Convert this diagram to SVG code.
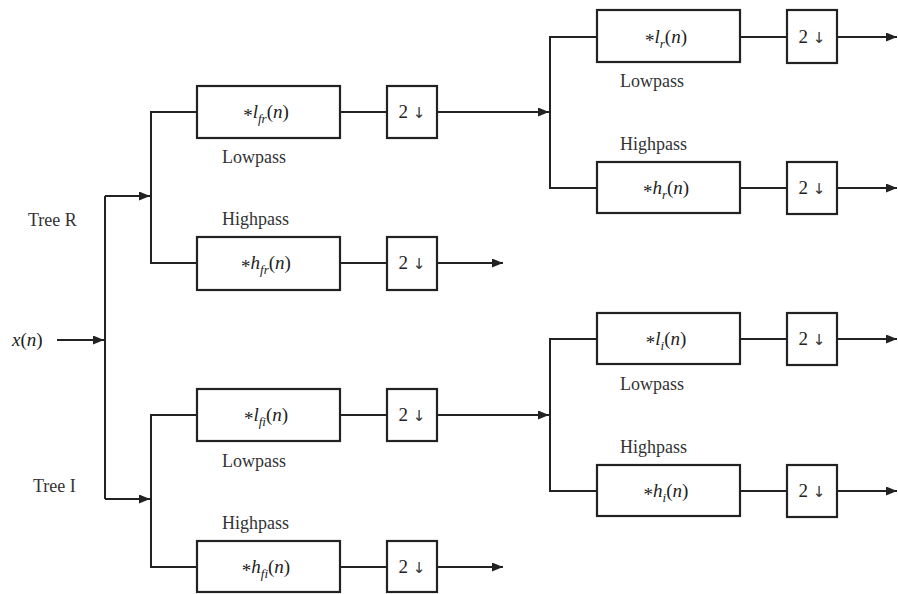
<svg xmlns="http://www.w3.org/2000/svg" width="898" height="594" viewBox="0 0 898 594">
<defs>
<style>
.box{fill:#fff;stroke:#222;stroke-width:2.2}
.ln{fill:none;stroke:#222;stroke-width:2}
.t{font-family:"Liberation Serif","Times New Roman",serif;font-size:18px;fill:#333}
.m{font-family:"Liberation Serif","Times New Roman",serif;font-size:19px;fill:#222}
.i{font-style:italic}
.s{font-size:13px;font-style:italic}
.a{font-family:"DejaVu Sans",sans-serif;font-size:15px;fill:#333}
</style>
<marker id="ah" markerUnits="userSpaceOnUse" markerWidth="12" markerHeight="10" refX="11" refY="4.5" orient="auto">
<path d="M0,0 L11,4.5 L0,9 z" fill="#222"/>
</marker>
</defs>
<rect width="898" height="594" fill="#fff"/>
<g id="connectors">
<path class="ln" d="M57,340 H104" marker-end="url(#ah)"/>
<path class="ln" d="M105,196 V499"/>
<path class="ln" d="M105,196 H150" marker-end="url(#ah)"/>
<path class="ln" d="M105,499 H150" marker-end="url(#ah)"/>
<path class="ln" d="M197,112 H151 V263 H197"/>
<path class="ln" d="M340,112 H387"/>
<path class="ln" d="M437,112 H549" marker-end="url(#ah)"/>
<path class="ln" d="M340,263 H387"/>
<path class="ln" d="M437,263 H503" marker-end="url(#ah)"/>
<path class="ln" d="M597,37 H550 V188 H597"/>
<path class="ln" d="M740,37 H787"/>
<path class="ln" d="M837,37 H897" marker-end="url(#ah)"/>
<path class="ln" d="M740,188 H787"/>
<path class="ln" d="M837,188 H897" marker-end="url(#ah)"/>
<path class="ln" d="M197,415 H151 V567 H197"/>
<path class="ln" d="M340,415 H387"/>
<path class="ln" d="M437,415 H549" marker-end="url(#ah)"/>
<path class="ln" d="M340,567 H387"/>
<path class="ln" d="M437,567 H503" marker-end="url(#ah)"/>
<path class="ln" d="M597,339 H550 V491 H597"/>
<path class="ln" d="M740,339 H787"/>
<path class="ln" d="M837,339 H897" marker-end="url(#ah)"/>
<path class="ln" d="M740,491 H787"/>
<path class="ln" d="M837,491 H897" marker-end="url(#ah)"/>
</g>
<g id="labels">
<text class="m" x="12" y="346"><tspan class="i">x</tspan>(<tspan class="i">n</tspan>)</text>
<text class="t" x="28" y="226">Tree R</text>
<text class="t" x="33" y="492">Tree I</text>
</g>
<g id="lfr">
<rect class="box" x="197" y="86" width="143" height="52"/>
<text class="m" x="266" y="118" text-anchor="middle"><tspan dy="4">*</tspan><tspan class="i" dy="-4">l</tspan><tspan class="s" dy="5">fr</tspan><tspan dy="-5">(</tspan><tspan class="i">n</tspan>)</text>
<text class="t" x="222" y="163">Lowpass</text>
</g>
<g id="ds_fr_l">
<rect class="box" x="387" y="86" width="50" height="52"/>
<text class="m" x="412" y="118" text-anchor="middle">2 <tspan class="a">↓</tspan></text>
</g>
<g id="hfr">
<rect class="box" x="197" y="237" width="143" height="53"/>
<text class="t" x="222" y="225">Highpass</text>
<text class="m" x="266" y="269" text-anchor="middle"><tspan dy="4">*</tspan><tspan class="i" dy="-4">h</tspan><tspan class="s" dy="5">fr</tspan><tspan dy="-5">(</tspan><tspan class="i">n</tspan>)</text>
</g>
<g id="ds_fr_h">
<rect class="box" x="387" y="237" width="50" height="53"/>
<text class="m" x="412" y="269" text-anchor="middle">2 <tspan class="a">↓</tspan></text>
</g>
<g id="lr">
<rect class="box" x="597" y="10" width="143" height="52"/>
<text class="m" x="666" y="43" text-anchor="middle"><tspan dy="4">*</tspan><tspan class="i" dy="-4">l</tspan><tspan class="s" dy="5">r</tspan><tspan dy="-5">(</tspan><tspan class="i">n</tspan>)</text>
<text class="t" x="620" y="87">Lowpass</text>
</g>
<g id="ds_r_l">
<rect class="box" x="787" y="10" width="50" height="53"/>
<text class="m" x="812" y="43" text-anchor="middle">2 <tspan class="a">↓</tspan></text>
</g>
<g id="hr">
<rect class="box" x="597" y="162" width="143" height="51"/>
<text class="t" x="620" y="150">Highpass</text>
<text class="m" x="666" y="194" text-anchor="middle"><tspan dy="4">*</tspan><tspan class="i" dy="-4">h</tspan><tspan class="s" dy="5">r</tspan><tspan dy="-5">(</tspan><tspan class="i">n</tspan>)</text>
</g>
<g id="ds_r_h">
<rect class="box" x="787" y="162" width="50" height="52"/>
<text class="m" x="812" y="194" text-anchor="middle">2 <tspan class="a">↓</tspan></text>
</g>
<g id="lfi">
<rect class="box" x="197" y="389" width="143" height="52"/>
<text class="m" x="266" y="421" text-anchor="middle"><tspan dy="4">*</tspan><tspan class="i" dy="-4">l</tspan><tspan class="s" dy="5">fi</tspan><tspan dy="-5">(</tspan><tspan class="i">n</tspan>)</text>
<text class="t" x="222" y="467">Lowpass</text>
</g>
<g id="ds_fi_l">
<rect class="box" x="387" y="389" width="50" height="52"/>
<text class="m" x="412" y="421" text-anchor="middle">2 <tspan class="a">↓</tspan></text>
</g>
<g id="hfi">
<rect class="box" x="197" y="541" width="143" height="51"/>
<text class="t" x="222" y="529">Highpass</text>
<text class="m" x="266" y="573" text-anchor="middle"><tspan dy="4">*</tspan><tspan class="i" dy="-4">h</tspan><tspan class="s" dy="5">fi</tspan><tspan dy="-5">(</tspan><tspan class="i">n</tspan>)</text>
</g>
<g id="ds_fi_h">
<rect class="box" x="387" y="541" width="50" height="51"/>
<text class="m" x="412" y="573" text-anchor="middle">2 <tspan class="a">↓</tspan></text>
</g>
<g id="li">
<rect class="box" x="597" y="313" width="143" height="51"/>
<text class="m" x="666" y="345" text-anchor="middle"><tspan dy="4">*</tspan><tspan class="i" dy="-4">l</tspan><tspan class="s" dy="5">i</tspan><tspan dy="-5">(</tspan><tspan class="i">n</tspan>)</text>
<text class="t" x="620" y="390">Lowpass</text>
</g>
<g id="ds_i_l">
<rect class="box" x="787" y="313" width="50" height="52"/>
<text class="m" x="812" y="345" text-anchor="middle">2 <tspan class="a">↓</tspan></text>
</g>
<g id="hi">
<rect class="box" x="597" y="465" width="143" height="51"/>
<text class="t" x="620" y="453">Highpass</text>
<text class="m" x="666" y="497" text-anchor="middle"><tspan dy="4">*</tspan><tspan class="i" dy="-4">h</tspan><tspan class="s" dy="5">i</tspan><tspan dy="-5">(</tspan><tspan class="i">n</tspan>)</text>
</g>
<g id="ds_i_h">
<rect class="box" x="787" y="465" width="50" height="52"/>
<text class="m" x="812" y="497" text-anchor="middle">2 <tspan class="a">↓</tspan></text>
</g>
</svg>
